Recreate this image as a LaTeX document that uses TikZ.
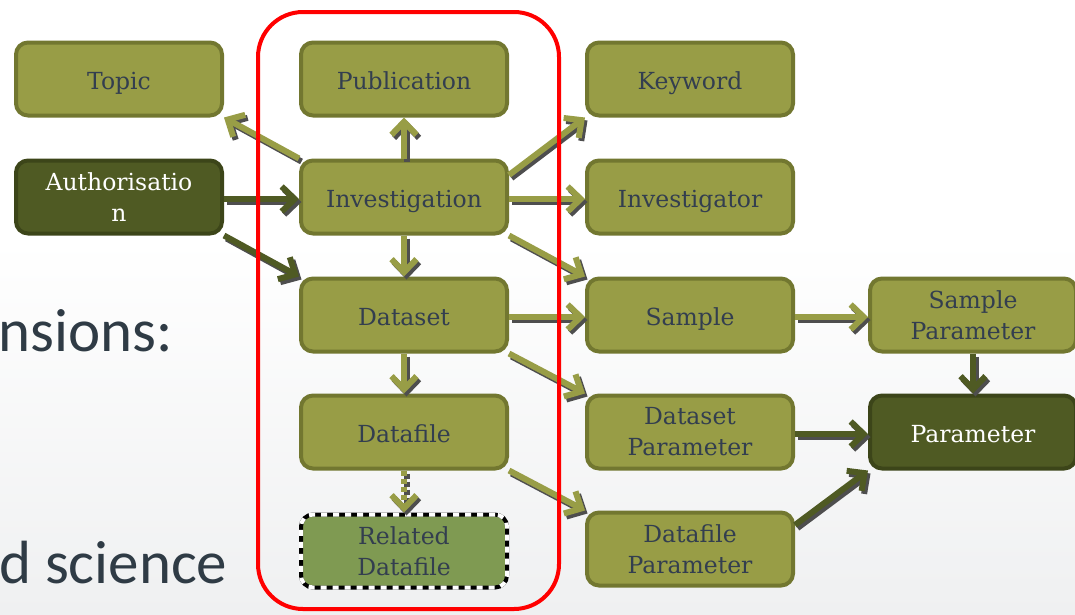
\documentclass[tikz,border=0pt]{standalone}
\usepackage{fontspec}
\setmainfont{DejaVu Serif}
\newfontfamily\slidefont{Carlito}
\usetikzlibrary{arrows.meta,calc}

\definecolor{boxfill}{RGB}{152,157,70}
\definecolor{boxline}{RGB}{114,119,48}
\definecolor{darkfill}{RGB}{79,90,35}
\definecolor{darkline}{RGB}{60,69,25}
\definecolor{relfill}{RGB}{127,154,82}
\definecolor{txt}{RGB}{51,62,79}
\definecolor{slidetxt}{RGB}{47,59,69}
\definecolor{shadowgray}{RGB}{78,78,78}
\definecolor{bgbottom}{RGB}{239,240,241}

% a relation arrow with its drop shadow: style, start, end
\newcommand\relation[3]{%
  \draw[#1, draw=shadowgray, transform canvas={xshift=2.5pt,yshift=-3pt}] #2 -- #3;
  \draw[#1] #2 -- #3;}

\begin{document}
\begin{tikzpicture}[x=1pt,y=-1pt,
  box/.style={draw=boxline, fill=boxfill, line width=4pt, rounded corners=12pt,
    minimum width=206pt, minimum height=73pt, align=center, text=txt,
    font=\fontsize{23.5}{31}\selectfont, inner sep=2pt},
  oneline/.style={text height=20pt, text depth=0pt},
  darkbox/.style={box, draw=darkline, fill=darkfill, text=white},
  relbox/.style={box, fill=relfill, draw=black,
    postaction={draw=white, line width=4pt, dash pattern=on 6pt off 6pt}},
  tip/.style={-{Straight Barb[length=13pt,width=25pt]}},
  lt/.style={draw=boxfill, line width=6pt, tip},
  dk/.style={draw=darkfill, line width=6pt, tip},
  dotted link/.style={lt, dash pattern=on 5pt off 3pt},
  slide/.style={anchor=base west, inner sep=0pt, text=slidetxt,
    font=\slidefont\fontsize{61}{61}\selectfont}
]
\clip (0,0) rectangle (1075,614);
% slide background
\fill[white] (0,0) rectangle (1075,614);
\shade[top color=white, bottom color=bgbottom] (0,240) rectangle (1075,614);

% slide body text behind the diagram
\node[slide] (s1) at (-2,351) {nsions:};
\node[slide] (s2) at (-1,583) {d science};

% entities
\node[box, oneline] (topic) at (119,79) {Topic};
\node[box, oneline] (pub) at (404,79) {Publication};
\node[box, oneline] (kw) at (690,79) {Keyword};
\node[darkbox] (auth) at (119,197) {Authorisatio\\n};
\node[box, oneline] (inv) at (404,197) {Investigation};
\node[box, oneline] (invr) at (690,197) {Investigator};
\node[box, oneline] (ds) at (404,315) {Dataset};
\node[box, oneline] (smp) at (690,315) {Sample};
\node[box] (sp) at (973,315) {Sample\\Parameter};
\node[box, oneline] (df) at (404,432) {Datafile};
\node[box] (dsp) at (690,432) {Dataset\\Parameter};
\node[darkbox, oneline] (par) at (973,432) {Parameter};
\node[relbox] (rel) at (404,551) {Related\\Datafile};
\node[box] (dfp) at (690,549) {Datafile\\Parameter};

% relations
\relation{lt}{(inv.north west)}{(topic.south east)}
\relation{lt}{(inv.north)}{(pub.south)}
\relation{lt}{([yshift=22pt]inv.east)}{(kw.south west)}
\relation{dk}{([yshift=-2pt]auth.east)}{([yshift=-2pt]inv.west)}
\relation{dk}{(auth.south east)}{(ds.north west)}
\relation{lt}{([yshift=-2pt]inv.east)}{([yshift=-2pt]invr.west)}
\relation{lt}{(inv.south)}{(ds.north)}
\relation{lt}{(inv.south east)}{(smp.north west)}
\relation{lt}{([yshift=-2pt]ds.east)}{([yshift=-2pt]smp.west)}
\relation{lt}{(ds.south east)}{(dsp.north west)}
\relation{lt}{(ds.south)}{(df.north)}
\relation{lt}{([yshift=-2pt]smp.east)}{([yshift=-2pt]sp.west)}
\relation{dk}{(sp.south)}{(par.north)}
\relation{dk}{([yshift=-2pt]dsp.east)}{([yshift=-2pt]par.west)}
\relation{dk}{([yshift=24pt]dfp.east)}{(par.south west)}
\relation{lt}{(df.south east)}{(dfp.north west)}
\relation{dotted link}{(df.south)}{(rel.north)}

% highlighted core group
\draw[red, line width=4pt, rounded corners=45pt] (258,12) rectangle (559,609);
\end{tikzpicture}
\end{document}
